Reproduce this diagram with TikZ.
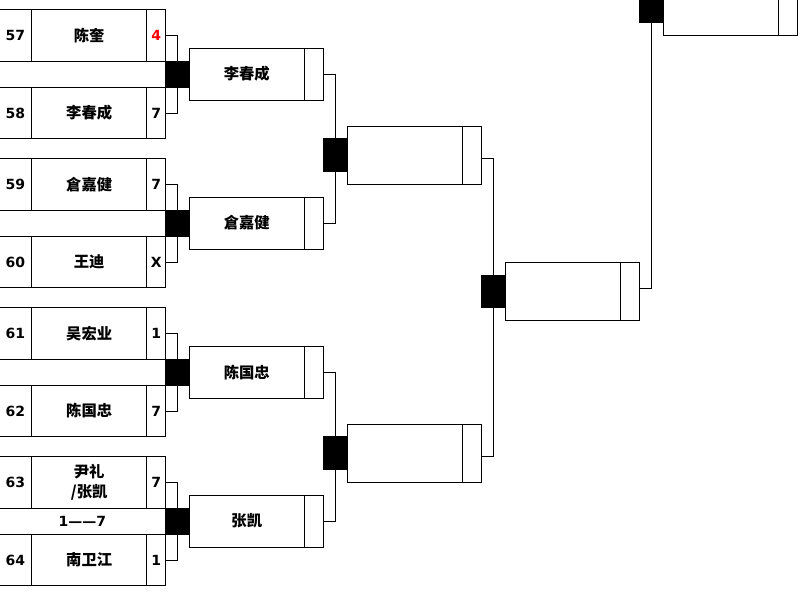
\documentclass[tikz,border=0pt]{standalone}
\usepackage{fontspec}
\setmainfont{DejaVu Sans}
\newfontfamily\cjk{Noto Sans CJK SC}
\usepackage{tikz}
\usetikzlibrary{positioning}

\def\px{0.75pt}
\tikzset{
  cell/.style={draw, rectangle, inner sep=0pt, outer sep=0pt, minimum height=51.8*\px},
  numcell/.style={cell, minimum width=32.7*\px, font=\bfseries\fontsize{10.5}{12}\selectfont},
  namecell/.style={cell, minimum width=115*\px, align=center, font=\cjk\bfseries\fontsize{11.5}{15.5}\selectfont},
  scorecell/.style={cell, minimum width=19*\px, font=\bfseries\fontsize{10.5}{12}\selectfont},
  band/.style={cell, minimum width=166.7*\px, minimum height=26*\px, font=\bfseries\fontsize{10.5}{12}\selectfont},
  blk/.style={draw, fill=black, inner sep=0pt, outer sep=0pt, minimum width=24.4*\px, minimum height=32.7*\px},
  bigcell/.style={cell, minimum height=58*\px},
}

\begin{document}
\begin{tikzpicture}[x=0.75pt, y=-0.75pt, line width=0.75pt]
    \useasboundingbox (0,0) rectangle (801,594);
    \clip (0,0) rectangle (801,594);

    % First round: four pairs of players
    \foreach \g/\ta/\na/\sa/\tb/\nb/\sb/\m/\w in {
        1/57/陈奎/\textcolor{red}{4}/58/李春成/7//李春成,
        2/59/倉嘉健/7/60/王迪/X//倉嘉健,
        3/61/吴宏业/1/62/陈国忠/7//陈国忠,
        4/63/{尹礼\\/张凯}/7/64/南卫江/1/1——7/张凯} {
      \pgfmathsetmacro\gy{9.3+149*(\g-1)}

      % Upper player row
      \node[numcell, anchor=north west] (n\ta) at (-1,\gy) {\ta};
      \node[namecell, right=0pt of n\ta] (p\ta) {\na};
      \node[scorecell, right=0pt of p\ta] (s\ta) {\sa};

      % Band between the two rows
      \node[band, anchor=north west] (bd\g) at (n\ta.south west) {\m};

      % Lower player row
      \node[numcell, anchor=north west] (n\tb) at (bd\g.south west) {\tb};
      \node[namecell, right=0pt of n\tb] (p\tb) {\nb};
      \node[scorecell, right=0pt of p\tb] (s\tb) {\sb};

      % Bracket and winner box
      \node[blk, minimum width=23.6*\px, minimum height=26*\px, right=0pt of bd\g] (b\g) {};
      \draw (s\ta.east) -| (b\g.center) |- (s\tb.east);
      \node[namecell, right=0pt of b\g] (w\g) {\w};
      \node[scorecell, right=0pt of w\g] (ws\g) {};
    }

    % Second round
    \node[blk, minimum width=24.3*\px] (b5) at (335.2,155.3) {};
    \node[bigcell, minimum width=115*\px, right=0pt of b5] (w5) {};
    \node[bigcell, minimum width=19*\px, right=0pt of w5] (ws5) {};
    \draw (ws1.east) -| (b5.center) |- (ws2.east);

    \node[blk, minimum width=24.3*\px] (b6) at (335.2,453.3) {};
    \node[bigcell, minimum width=115*\px, right=0pt of b6] (w6) {};
    \node[bigcell, minimum width=19*\px, right=0pt of w6] (ws6) {};
    \draw (ws3.east) -| (b6.center) |- (ws4.east);

    % Third round
    \node[blk] (b7) at (493.35,291.35) {};
    \node[bigcell, minimum width=115*\px, right=0pt of b7] (w7) {};
    \node[bigcell, minimum width=19*\px, right=0pt of w7] (ws7) {};
    \draw ([yshift=-3*\px]ws5.east) -| (b7.center) |- ([yshift=-3*\px]ws6.east);

    % Final
    \node[blk] (b8) at (651.5,6.35) {};
    \node[bigcell, minimum width=115*\px, right=0pt of b8] (w8) {};
    \node[bigcell, minimum width=19*\px, right=0pt of w8] (ws8) {};
    \draw ([yshift=3*\px]ws7.east) -| (b8.south);

  \end{tikzpicture}
\end{document}
